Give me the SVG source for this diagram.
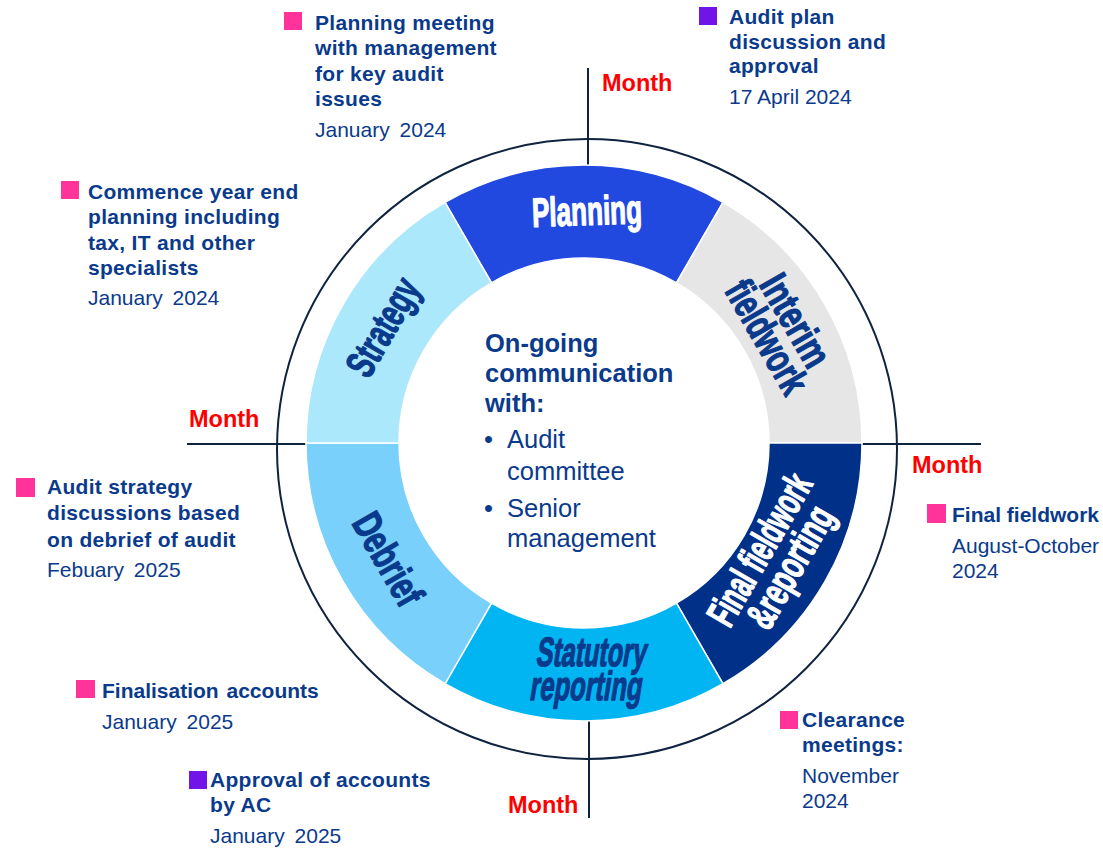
<svg xmlns="http://www.w3.org/2000/svg" width="1103" height="848" viewBox="0 0 1103 848">
<style>
.seg{stroke:#ffffff;stroke-width:1.5}
.lbl{font-family:"Liberation Sans",Arial,sans-serif;font-weight:bold;font-size:41px;text-anchor:middle;stroke-width:1.3px;stroke-linejoin:round}
.dk{fill:#0A3A8C;stroke:#0A3A8C}
.wt{fill:#ffffff;stroke:#ffffff}
.axis{stroke:#0F2340;stroke-width:2;fill:none}
.month{font-family:"Liberation Sans",Arial,sans-serif;font-weight:bold;font-size:23.5px;fill:#FF0000}
.b{font-family:"Liberation Sans",Arial,sans-serif;font-weight:bold;font-size:21px;fill:#0A3A8C;letter-spacing:0.3px}
.r{font-family:"Liberation Sans",Arial,sans-serif;font-size:21px;fill:#0A3A8C;word-spacing:4px}
.cb{font-family:"Liberation Sans",Arial,sans-serif;font-weight:bold;font-size:25.5px;fill:#0A3A8C}
.cr{font-family:"Liberation Sans",Arial,sans-serif;font-size:25.5px;fill:#0A3A8C}
.pk{fill:#FF3399}
.pu{fill:#7014E8}
</style>
<rect width="1103" height="848" fill="#ffffff"/>

<g id="connectors">
  <circle class="axis" cx="587" cy="449" r="310"/>
  <line class="axis" x1="588" y1="68" x2="588" y2="165"/>
  <line class="axis" x1="187" y1="444" x2="306" y2="444"/>
  <line class="axis" x1="862" y1="444" x2="981" y2="444"/>
  <line class="axis" x1="589" y1="721" x2="589" y2="818"/>
</g>

<g id="planning">
  <path class="seg" fill="#2149E0" d="M445,202.25 A278,278 0 0 1 723,202.25 L676.5,282.79 A185,185 0 0 0 491.5,282.79 Z"/>
  <text class="lbl wt" x="587" y="225" textLength="110" lengthAdjust="spacingAndGlyphs" transform="rotate(-2 587 212)">Planning</text>
</g>
<g id="interim">
  <path class="seg" fill="#E6E6E6" d="M723,202.25 A278,278 0 0 1 862,443 L769,443 A185,185 0 0 0 676.5,282.79 Z"/>
  <g transform="translate(779,330) rotate(60)">
    <text class="lbl dk" x="0" y="-5" textLength="100" lengthAdjust="spacingAndGlyphs">Interim</text>
    <text class="lbl dk" x="0" y="28" textLength="124" lengthAdjust="spacingAndGlyphs">fieldwork</text>
  </g>
</g>
<g id="final">
  <path class="seg" fill="#003087" d="M862,443 A278,278 0 0 1 723,683.75 L676.5,603.21 A185,185 0 0 0 769,443 Z"/>
  <g transform="translate(776,559) rotate(-60)">
    <text class="lbl wt" x="0" y="-5" textLength="168" lengthAdjust="spacingAndGlyphs">Final fieldwork</text>
    <text class="lbl wt" x="0" y="30" textLength="134" lengthAdjust="spacingAndGlyphs">&amp;reporting</text>
  </g>
</g>
<g id="statutory">
  <path class="seg" fill="#00B5F1" d="M723,683.75 A278,278 0 0 1 445,683.75 L491.5,603.21 A185,185 0 0 0 676.5,603.21 Z"/>
  <g transform="translate(588,680) skewX(-9)">
    <text class="lbl dk" x="0" y="-14" textLength="110" lengthAdjust="spacingAndGlyphs">Statutory</text>
    <text class="lbl dk" x="0" y="20" textLength="112" lengthAdjust="spacingAndGlyphs">reporting</text>
  </g>
</g>
<g id="debrief">
  <path class="seg" fill="#78D0FB" d="M445,683.75 A278,278 0 0 1 306,443 L399,443 A185,185 0 0 0 491.5,603.21 Z"/>
  <g transform="translate(388,559) rotate(60)">
    <text class="lbl dk" x="0" y="14" textLength="100" lengthAdjust="spacingAndGlyphs">Debrief</text>
  </g>
</g>
<g id="strategy">
  <path class="seg" fill="#ABE8FC" d="M306,443 A278,278 0 0 1 445,202.25 L491.5,282.79 A185,185 0 0 0 399,443 Z"/>
  <g transform="translate(383,327) rotate(-60)">
    <text class="lbl dk" x="0" y="14" textLength="106" lengthAdjust="spacingAndGlyphs">Strategy</text>
  </g>
</g>

<g id="center-text">
  <text class="cb" x="485" y="352">On-going</text>
  <text class="cb" x="485" y="382">communication</text>
  <text class="cb" x="485" y="412">with:</text>
  <text class="cr" x="484" y="448">•</text>
  <text class="cr" x="507" y="448">Audit</text>
  <text class="cr" x="507" y="480">committee</text>
  <text class="cr" x="484" y="517">•</text>
  <text class="cr" x="507" y="517">Senior</text>
  <text class="cr" x="507" y="547">management</text>
</g>

<g id="months">
  <text class="month" x="602" y="91">Month</text>
  <text class="month" x="189" y="427">Month</text>
  <text class="month" x="912" y="473">Month</text>
  <text class="month" x="508" y="813">Month</text>
</g>

<g id="note-planning-meeting">
  <rect class="pk" x="284" y="12" width="18" height="18"/>
  <text class="b" x="315" y="30">Planning meeting</text>
  <text class="b" x="315" y="55">with management</text>
  <text class="b" x="315" y="81">for key audit</text>
  <text class="b" x="315" y="106">issues</text>
  <text class="r" x="315" y="137">January 2024</text>
</g>
<g id="note-commence">
  <rect class="pk" x="61" y="181" width="18" height="18"/>
  <text class="b" x="88" y="199">Commence year end</text>
  <text class="b" x="88" y="224">planning including</text>
  <text class="b" x="88" y="250">tax, IT and other</text>
  <text class="b" x="88" y="275">specialists</text>
  <text class="r" x="88" y="305">January 2024</text>
</g>
<g id="note-audit-plan">
  <rect class="pu" x="699" y="7" width="18" height="18"/>
  <text class="b" x="729" y="24">Audit plan</text>
  <text class="b" x="729" y="49">discussion and</text>
  <text class="b" x="729" y="73">approval</text>
  <text class="r" x="729" y="104" style="word-spacing:0">17 April 2024</text>
</g>
<g id="note-audit-strategy">
  <rect class="pk" x="16" y="478" width="19" height="19"/>
  <text class="b" x="47" y="494">Audit strategy</text>
  <text class="b" x="47" y="520">discussions based</text>
  <text class="b" x="47" y="547">on debrief of audit</text>
  <text class="r" x="47" y="577">Febuary 2025</text>
</g>
<g id="note-finalisation">
  <rect class="pk" x="76" y="680" width="19" height="18"/>
  <text class="b" x="102" y="698" style="word-spacing:2px;letter-spacing:0">Finalisation accounts</text>
  <text class="r" x="102" y="729">January 2025</text>
</g>
<g id="note-approval">
  <rect class="pu" x="189" y="771" width="18" height="18"/>
  <text class="b" x="210" y="787">Approval of accounts</text>
  <text class="b" x="210" y="812">by AC</text>
  <text class="r" x="210" y="843">January 2025</text>
</g>
<g id="note-clearance">
  <rect class="pk" x="780" y="711" width="18" height="18"/>
  <text class="b" x="802" y="727">Clearance</text>
  <text class="b" x="802" y="752">meetings:</text>
  <text class="r" x="802" y="783">November</text>
  <text class="r" x="802" y="808">2024</text>
</g>
<g id="note-final-fieldwork">
  <rect class="pk" x="927" y="504" width="19" height="19"/>
  <text class="b" x="952" y="522" style="letter-spacing:0">Final fieldwork</text>
  <text class="r" x="952" y="553" style="word-spacing:0">August-October</text>
  <text class="r" x="952" y="578">2024</text>
</g>
</svg>
